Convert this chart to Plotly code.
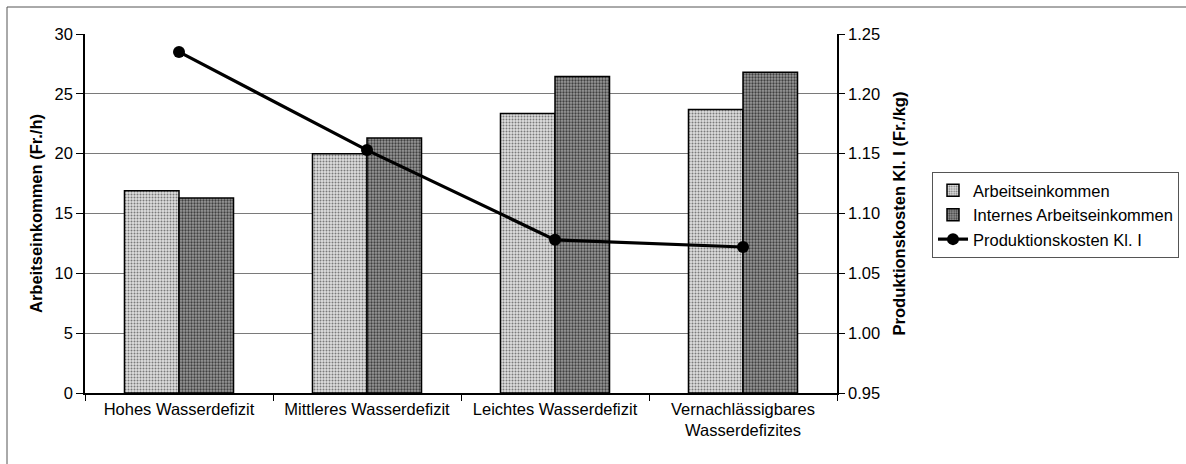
import plotly.graph_objects as go

categories = ["Hohes Wasserdefizit", "Mittleres Wasserdefizit", "Leichtes Wasserdefizit",
              "Vernachlässigbares<br>Wasserdefizites"]
arbeitseinkommen = [16.9, 20.0, 23.35, 23.7]
internes_arbeitseinkommen = [16.3, 21.3, 26.45, 26.8]
produktionskosten = [1.235, 1.153, 1.078, 1.072]

FONT = "Liberation Sans, Arial, sans-serif"
FS = 16.5

fig = go.Figure()
fig.add_trace(go.Bar(
    x=categories, y=arbeitseinkommen, name="Arbeitseinkommen",
    marker=dict(color="#d0d0d0", line=dict(color="black", width=1.5),
                pattern=dict(shape=".", fgcolor="#7a7a7a", bgcolor="#dedede",
                             size=3, solidity=0.35, fillmode="replace")),
))
fig.add_trace(go.Bar(
    x=categories, y=internes_arbeitseinkommen, name="Internes Arbeitseinkommen",
    marker=dict(color="#7a7a7a", line=dict(color="black", width=1.5),
                pattern=dict(shape=".", fgcolor="#404040", bgcolor="#9a9a9a",
                             size=3, solidity=0.45, fillmode="replace")),
))
fig.add_trace(go.Scatter(
    x=categories, y=produktionskosten, name="Produktionskosten Kl. I",
    yaxis="y2", mode="lines+markers",
    line=dict(color="black", width=3.2),
    marker=dict(color="black", size=12, symbol="circle"),
))

L, R, T, B = 85, 349, 34, 71
pw = 1186 - L - R
ph = 464 - T - B

fig.update_layout(
    width=1186, height=464,
    margin=dict(l=L, r=R, t=T, b=B, autoexpand=False),
    paper_bgcolor="white", plot_bgcolor="white",
    font=dict(family=FONT, size=FS, color="black"),
    barmode="group", bargap=0.42, bargroupgap=0,
    showlegend=True,
    legend=dict(
        x=(932 - L) / pw, y=(393 - 172) / ph, xanchor="left", yanchor="top",
        bordercolor="#555", borderwidth=1, bgcolor="white",
        font=dict(family=FONT, size=FS, color="black"),
        tracegroupgap=0, itemwidth=30,
    ),
    xaxis=dict(
        showline=True, linecolor="black", linewidth=1.5,
        ticks="outside", tickson="boundaries", ticklen=6, tickcolor="black",
        tickfont=dict(family=FONT, size=FS), showgrid=False,
    ),
    yaxis=dict(
        range=[0, 30], dtick=5, showline=True, linecolor="black", linewidth=1.5,
        ticks="outside", ticklen=7, tickcolor="black",
        showgrid=True, gridcolor="#7a7a7a", gridwidth=1, zeroline=False,
        tickfont=dict(family=FONT, size=FS),
        title=dict(text="<b>Arbeitseinkommen (Fr./h)</b>",
                   font=dict(family=FONT, size=FS), standoff=8),
    ),
    yaxis2=dict(
        range=[0.95, 1.25], dtick=0.05, tickformat=".2f", overlaying="y", side="right",
        showline=True, linecolor="black", linewidth=1.5,
        ticks="outside", ticklen=6, tickcolor="black",
        showgrid=False, zeroline=False,
        tickfont=dict(family=FONT, size=FS),
        title=dict(text="<b>Produktionskosten Kl. I (Fr./kg)</b>",
                   font=dict(family=FONT, size=FS), standoff=14),
    ),
    shapes=[dict(
        type="rect", xref="paper", yref="paper", layer="below",
        x0=(7 - L) / pw, x1=(1250 - L) / pw, y0=(393 - 520) / ph, y1=(393 - 7) / ph,
        line=dict(color="#555", width=1), fillcolor="rgba(0,0,0,0)",
    )],
)

fig.write_html("out.html", config={"displayModeBar": False},
               post_script="document.body.style.margin='0';document.body.style.overflow='hidden';")
